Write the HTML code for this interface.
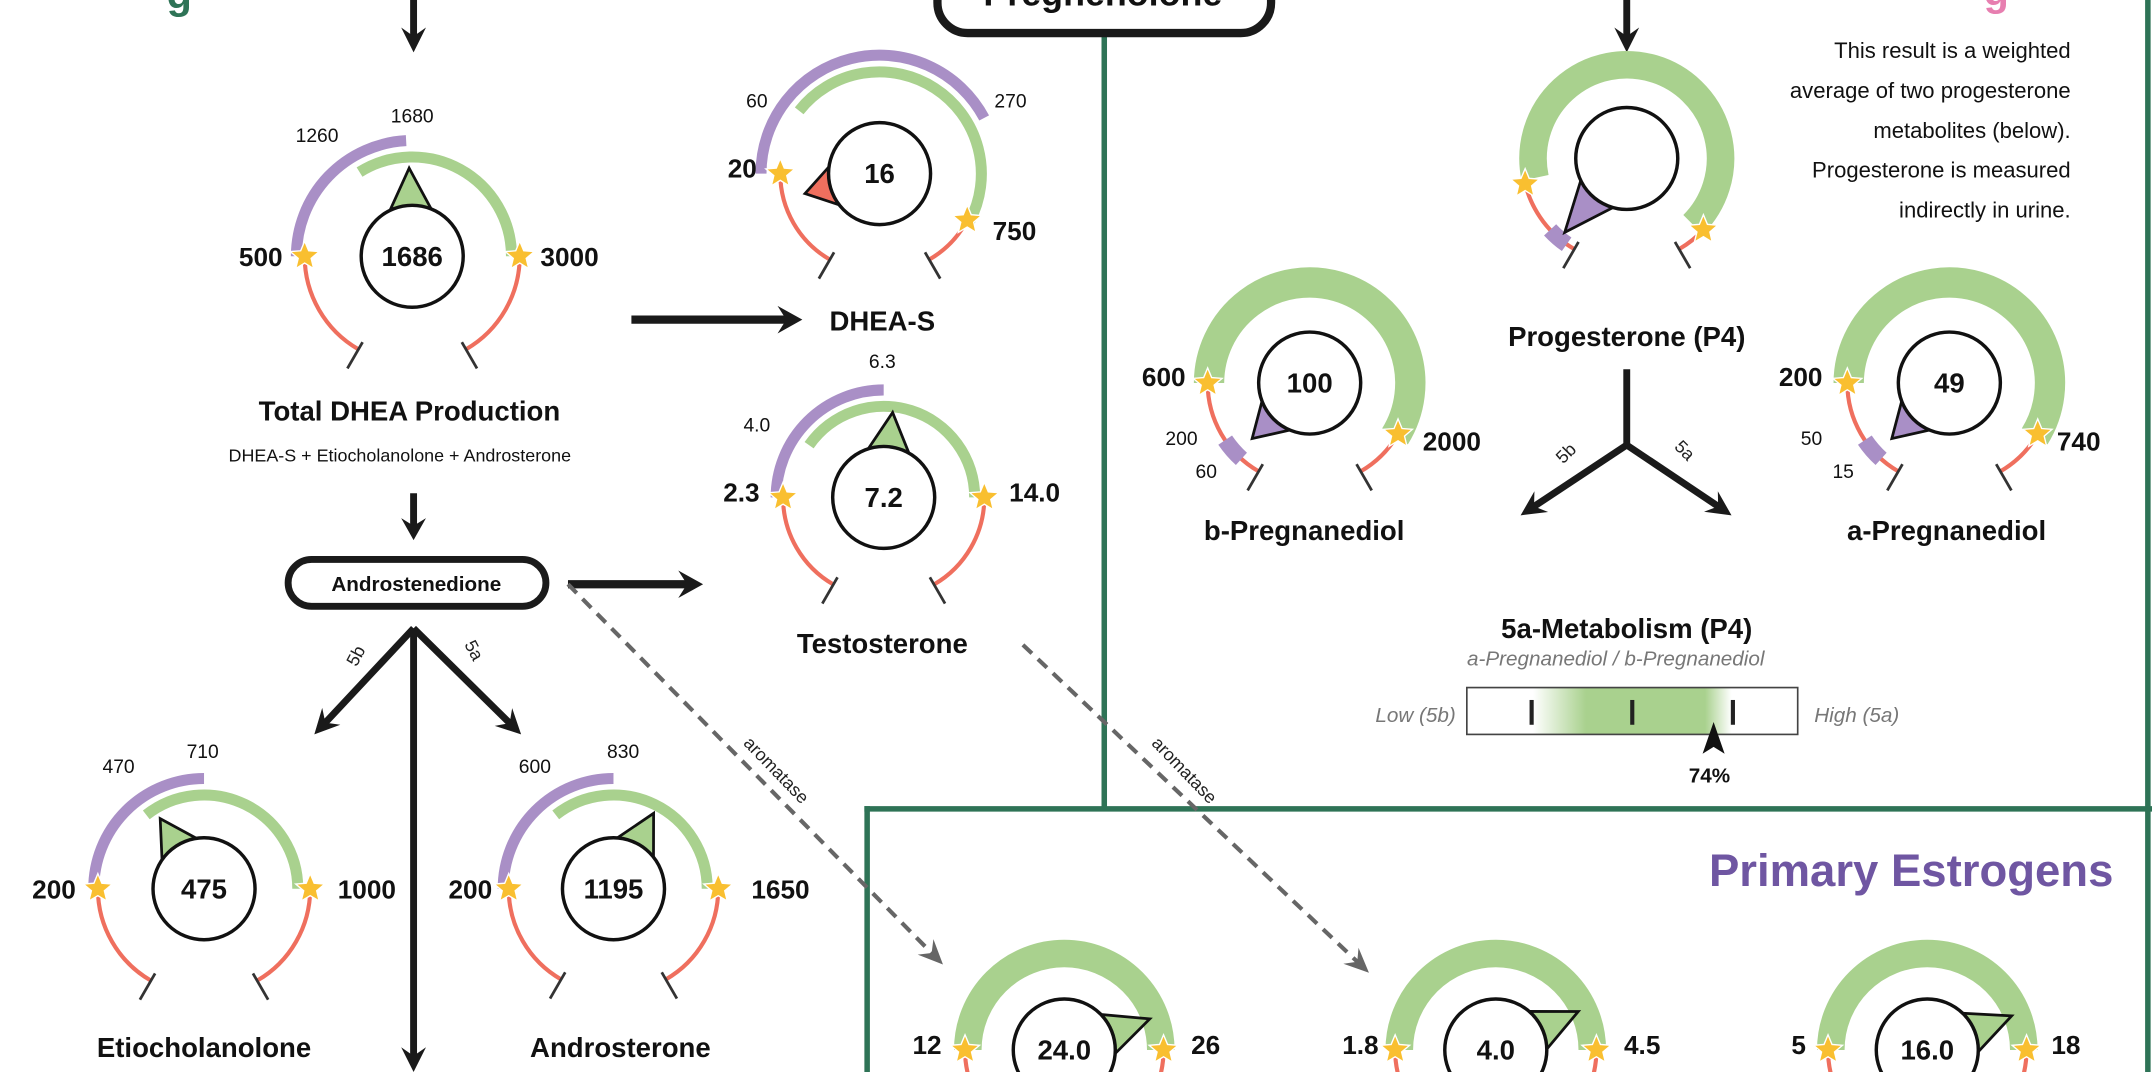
<!DOCTYPE html>
<html><head><meta charset="utf-8">
<style>
html,body{margin:0;padding:0;background:#fff;width:2152px;height:1072px;overflow:hidden}
svg{display:block}
text{font-family:"Liberation Sans",sans-serif}
</style></head>
<body>
<svg id="s" width="2152" height="1072" viewBox="0 0 1561 778" preserveAspectRatio="none" xmlns="http://www.w3.org/2000/svg">
<defs>
<linearGradient id="gb" x1="0" x2="1" y1="0" y2="0">
<stop offset="0" stop-color="#fff"/><stop offset="0.2" stop-color="#fff"/>
<stop offset="0.36" stop-color="#a9d18e"/><stop offset="0.72" stop-color="#a9d18e"/>
<stop offset="0.8" stop-color="#fff"/><stop offset="1" stop-color="#fff"/>
</linearGradient>
</defs>
<g id="g"></g>
</svg>
<script>
var G=document.getElementById('g'),out='';
var GR='#a9d18e',PU='#a98fc6',RD='#ef6f5e',ST='#f9bf30',DG='#2e7356';
function P(cx,cy,r,a){a=a*Math.PI/180;return [cx+r*Math.sin(a),cy-r*Math.cos(a)];}
function arc(cx,cy,r,a1,a2,col,w){var p=P(cx,cy,r,a1),q=P(cx,cy,r,a2);var l=(a2-a1)>180?1:0;
out+='<path d="M'+p[0].toFixed(1)+' '+p[1].toFixed(1)+' A'+r+' '+r+' 0 '+l+' 1 '+q[0].toFixed(1)+' '+q[1].toFixed(1)+'" fill="none" stroke="'+col+'" stroke-width="'+w+'"/>';}
function t(x,y,s,sz,wt,anc,fill,extra){out+='<text x="'+x+'" y="'+y+'" font-size="'+sz+'" font-weight="'+(wt||'normal')+'" text-anchor="'+(anc||'middle')+'" fill="'+(fill||'#111')+'" '+(extra||'')+'>'+s+'</text>';}
function star(x,y,r){var pts=[];for(var i=0;i<10;i++){var rr=i%2?r*0.45:r;var a=i*Math.PI/5;pts.push((x+rr*Math.sin(a)).toFixed(1)+','+(y-rr*Math.cos(a)).toFixed(1));}
out+='<polygon points="'+pts.join(' ')+'" fill="'+ST+'" stroke="#fff" stroke-width="1"/>';}
function arrow(x1,y1,x2,y2,w,hl,hw,col,dash){var dx=x2-x1,dy=y2-y1,L=Math.hypot(dx,dy),ux=dx/L,uy=dy/L;
var bx=x2-ux*hl,by=y2-uy*hl;
out+='<line x1="'+x1+'" y1="'+y1+'" x2="'+(x2-ux*hl*0.6)+'" y2="'+(y2-uy*hl*0.6)+'" stroke="'+col+'" stroke-width="'+w+'"'+(dash?' stroke-dasharray="'+dash+'"':'')+'/>';
var nx=-uy,ny=ux;var mx=x2-ux*hl*0.65,my=y2-uy*hl*0.65;
out+='<polygon points="'+x2+','+y2+' '+(bx+nx*hw)+','+(by+ny*hw)+' '+mx+','+my+' '+(bx-nx*hw)+','+(by-ny*hw)+'" fill="'+col+'"/>';}
function gauge(o){var cx=o.c[0],cy=o.c[1],R=o.R;
arc(cx,cy,R,-150,o.s1,RD,3);arc(cx,cy,R,o.s2,150,RD,3);
if(o.pu)arc(cx,cy,o.pu[0],o.pu[2],o.pu[3],PU,o.pu[1]);
if(o.gr)arc(cx,cy,o.gr[0],o.gr[2],o.gr[3],GR,o.gr[1]);
if(o.blk)arc(cx,cy,R,o.blk[0],o.blk[1],PU,12);
[-150,150].forEach(function(a){var p=P(cx,cy,R-6,a),q=P(cx,cy,R+16,a);out+='<line x1="'+p[0]+'" y1="'+p[1]+'" x2="'+q[0]+'" y2="'+q[1]+'" stroke="#333" stroke-width="2"/>';});
var s=P(cx,cy,R,o.s1);star(s[0],s[1],11);s=P(cx,cy,R,o.s2);star(s[0],s[1],11);
var cr=37,ap=P(cx,cy,o.pr||62,o.p),b1=P(cx,cy,cr-2,o.p-28),b2=P(cx,cy,cr-2,o.p+28);
out+='<polygon points="'+ap+' '+b1+' '+b2+'" fill="'+o.pc+'" stroke="#111" stroke-width="2" stroke-linejoin="miter"/>';
out+='<circle cx="'+cx+'" cy="'+cy+'" r="'+cr+'" fill="#fff" stroke="#111" stroke-width="2.5"/>';
if(o.v)t(cx,cy+7,o.v,20,'bold');}
// borders
out+='<line x1="801" y1="22" x2="801" y2="587" stroke="'+DG+'" stroke-width="4"/>';
out+='<line x1="627" y1="587" x2="1561" y2="587" stroke="'+DG+'" stroke-width="4"/>';
out+='<line x1="629" y1="585" x2="629" y2="778" stroke="'+DG+'" stroke-width="4"/>';
out+='<line x1="1558" y1="0" x2="1558" y2="778" stroke="'+DG+'" stroke-width="4"/>';
// Pregnenolone box
out+='<rect x="680" y="-40" width="242" height="64" rx="22" fill="#fff" stroke="#1a1a1a" stroke-width="6"/>';
t(800,4,'Pregnenolone',26,'bold');
t(130,6,'g',30,'bold','middle','#2e7356');
t(1448,4,'g',30,'bold','middle','#e77fb0');
// arrows top
arrow(300,0,300,38,5,18,9,'#1a1a1a');
arrow(1180,0,1180,38,5,18,9,'#1a1a1a');
// Total DHEA
gauge({c:[299,186],R:78,s1:-90,s2:90,gr:[72,8,-32,90],pu:[84,8,-90,-3],p:-2,pc:GR,pr:64,v:'1686'});
t(205,193,'500',19,'bold','end');t(392,193,'3000',19,'bold','start');
t(230,103,'1260',14);t(299,89,'1680',14);
t(297,305,'Total DHEA Production',20,'bold');t(290,335,'DHEA-S + Etiocholanolone + Androsterone',13);
arrow(300,358,300,392,5,16,9,'#1a1a1a');
arrow(458,232,582,232,6,18,10,'#1a1a1a');
// DHEA-S
gauge({c:[638,126],R:72,s1:-90,s2:118,gr:[74,8,-52,118],pu:[86,8,-90,62],p:-105,pc:RD,pr:56,v:'16'});
t(549,78,'60',14);t(733,78,'270',14);t(549,129,'20',19,'bold','end');t(720,174,'750',19,'bold','start');
t(640,240,'DHEA-S',20,'bold');
// Testosterone
gauge({c:[641,361],R:73,s1:-90,s2:90,gr:[66,8,-55,90],pu:[78,8,-90,0],p:6,pc:GR,pr:62,v:'7.2'});
t(549,313,'4.0',14);t(640,267,'6.3',14);t(551,364,'2.3',19,'bold','end');t(732,364,'14.0',19,'bold','start');
t(640,474,'Testosterone',20,'bold');
arrow(412,424,510,424,6,18,10,'#1a1a1a');
// Androstenedione
out+='<rect x="209" y="406" width="187" height="34" rx="17" fill="#fff" stroke="#1a1a1a" stroke-width="5"/>';
t(302,429,'Androstenedione',15,'bold');
arrow(300,456,228,533,5,18,9,'#1a1a1a');arrow(300,456,378,533,5,18,9,'#1a1a1a');arrow(300,456,300,778,5,18,9,'#1a1a1a');
t(262,478,'5b',13,'normal','middle','#222','transform="rotate(-62 262 478)"');
t(340,474,'5a',13,'normal','middle','#222','transform="rotate(62 340 474)"');
// Etiocholanolone
gauge({c:[148,645],R:77,s1:-90,s2:90,gr:[68,8,-38,90],pu:[80,8,-90,0],p:-32,pc:GR,pr:60,v:'475'});
t(86,561,'470',14);t(147,550,'710',14);t(55,652,'200',19,'bold','end');t(245,652,'1000',19,'bold','start');
t(148,767,'Etiocholanolone',20,'bold');
// Androsterone
gauge({c:[445,645],R:76,s1:-90,s2:90,gr:[68,8,-38,90],pu:[80,8,-90,0],p:28,pc:GR,pr:62,v:'1195'});
t(388,561,'600',14);t(452,550,'830',14);t(357,652,'200',19,'bold','end');t(545,652,'1650',19,'bold','start');
t(450,767,'Androsterone',20,'bold');
// aromatase dashed
arrow(412,424,684,700,3,18,8,'#666','9,6');
arrow(742,468,993,706,3,18,8,'#666','9,6');
t(560,562,'aromatase',13,'normal','middle','#222','transform="rotate(46 560 562)"');
t(856,562,'aromatase',13,'normal','middle','#222','transform="rotate(46 856 562)"');
// Progesterone
gauge({c:[1180,115],R:76,s1:-104,s2:133,gr:[68,20,-102,135],blk:[-145,-133],p:-140,pc:PU,pr:70,v:''});
t(1180,251,'Progesterone (P4)',20,'bold');
['This result is a weighted','average of two progesterone','metabolites (below).','Progesterone is measured','indirectly in urine.'].forEach(function(s,i){t(1502,42+i*29,s,16,'normal','end');});
out+='<line x1="1180" y1="268" x2="1180" y2="323" stroke="#1a1a1a" stroke-width="5"/>';
arrow(1180,323,1103,374,5,18,9,'#1a1a1a');arrow(1180,323,1256,374,5,18,9,'#1a1a1a');
t(1139,332,'5b',13,'normal','middle','#222','transform="rotate(-45 1139 332)"');
t(1219,330,'5a',13,'normal','middle','#222','transform="rotate(45 1219 330)"');
// b-Pregnanediol
gauge({c:[950,278],R:74,s1:-90,s2:120,gr:[73,22,-90,122],blk:[-138,-124],p:-134,pc:PU,pr:58,v:'100'});
t(860,280,'600',19,'bold','end');t(1032,327,'2000',19,'bold','start');t(857,323,'200',14);t(875,347,'60',14);
t(946,392,'b-Pregnanediol',20,'bold');
// a-Pregnanediol
gauge({c:[1414,278],R:74,s1:-90,s2:120,gr:[73,22,-90,122],blk:[-138,-124],p:-134,pc:PU,pr:58,v:'49'});
t(1322,280,'200',19,'bold','end');t(1492,327,'740',19,'bold','start');t(1314,323,'50',14);t(1337,347,'15',14);
t(1412,392,'a-Pregnanediol',20,'bold');
// 5a metabolism
t(1180,463,'5a-Metabolism (P4)',20,'bold');
t(1172,483,'a-Pregnanediol / b-Pregnanediol',15,'normal','middle','#777','font-style="italic"');
out+='<rect x="1064" y="499" width="240" height="34" fill="url(#gb)" stroke="#444" stroke-width="1.2"/>';
[1111,1184,1257].forEach(function(x){out+='<line x1="'+x+'" y1="508" x2="'+x+'" y2="526" stroke="#222" stroke-width="3"/>';});
t(1056,524,'Low (5b)',15,'normal','end','#777','font-style="italic"');
t(1316,524,'High (5a)',15,'normal','start','#777','font-style="italic"');
out+='<polygon points="1243,524 1251,547 1243,542 1235,547" fill="#111"/>';
t(1240,568,'74%',15,'bold');
// Estrogens
out+='<text x="1533" y="643" font-size="33" font-weight="bold" text-anchor="end" fill="#6f56a2" font-family="Liberation Serif,serif">Primary Estrogens</text>';
gauge({c:[772,762],R:72,s1:-90,s2:90,gr:[70,20,-90,90],p:70,pc:GR,pr:66,v:'24.0'});
t(683,765,'12',19,'bold','end');t(864,765,'26',19,'bold','start');
gauge({c:[1085,762],R:73,s1:-90,s2:90,gr:[70,20,-90,90],p:65,pc:GR,pr:66,v:'4.0'});
t(1000,765,'1.8',19,'bold','end');t(1178,765,'4.5',19,'bold','start');
gauge({c:[1398,762],R:72,s1:-90,s2:90,gr:[70,20,-90,90],p:68,pc:GR,pr:66,v:'16.0'});
t(1310,765,'5',19,'bold','end');t(1488,765,'18',19,'bold','start');
G.innerHTML=out;
</script>
</body></html>
